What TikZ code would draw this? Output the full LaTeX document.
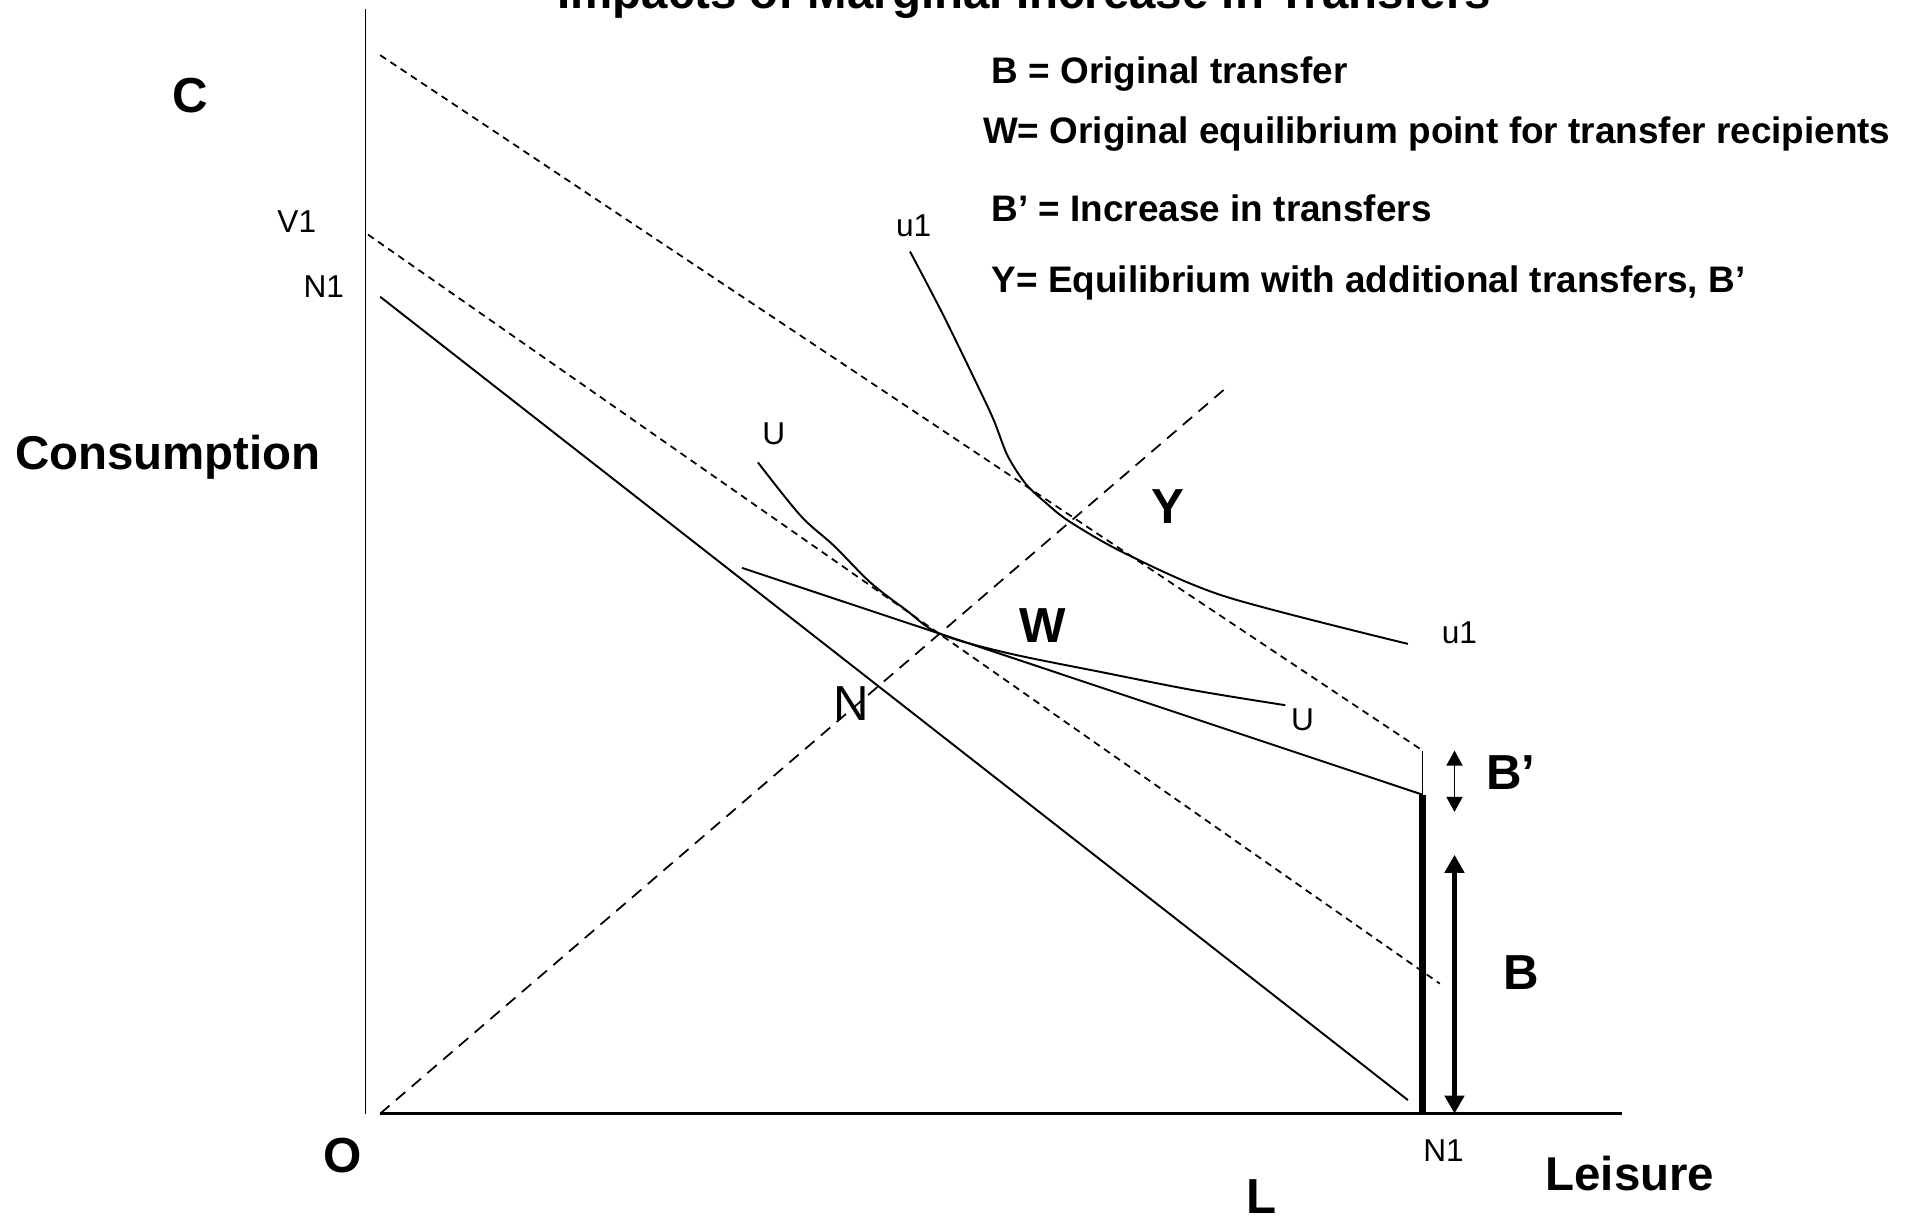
\documentclass[tikz,border=0pt]{standalone}
\usepackage{fontspec}
\setmainfont{Liberation Sans}
\usepackage{tikz}
\usetikzlibrary{arrows.meta, positioning}

\tikzset{
	biglbl/.style={font=\fontsize{14}{16}\selectfont\bfseries, inner sep=0pt},
	axislbl/.style={font=\fontsize{13.5}{16}\selectfont\bfseries, inner sep=0pt},
	smalllbl/.style={font=\fontsize{9}{11}\selectfont, inner sep=0pt},
	keytext/.style={font=\fontsize{10.5}{12}\selectfont\bfseries, anchor=west, inner sep=0pt},
	curve/.style={line width=0.55pt},
	shortdash/.style={line width=0.5pt, dash pattern=on 2pt off 1.5pt},
	longdash/.style={line width=0.5pt, dash pattern=on 3.5pt off 2.4pt},
}

\begin{document}
\begin{tikzpicture}
			\useasboundingbox (-3.655, -1.079) rectangle (15.575, 11.136);
			% Points:
			\coordinate (O) at (0, 0);
			\coordinate (Ctop) at (0, 11.05);
			\coordinate (Lstart) at (0.147, 0);
			\coordinate (Lend) at (12.56, 0);
			\coordinate (W) at (5.74, 4.80);
			\coordinate (Y) at (7.044, 5.918);
			\coordinate (Kink) at (10.571, 3.189);
			\coordinate (Bftop) at (10.571, 3.630);
			\coordinate (Nbase) at (10.571, 0);
			% Axes:
			\draw[line width=0.45pt] (Ctop) -- (O);
			\draw[line width=0.75pt] (Lstart) -- (Lend);
			% Budget lines:
			\draw[curve] (0.147, 8.168) -- (10.424, 0.135);
			\draw[shortdash] (0.025, 8.79) -- (10.743, 1.30);
			\draw[shortdash] (0.147, 10.584) -- (Bftop);
			\draw[curve] (3.765, 5.457) -- (W) -- (Kink);
			\draw[line width=0.45pt] (Bftop) -- (Kink);
			\draw[line width=2pt] (Kink) -- (Nbase);
			\draw[longdash] (Lstart) -- (8.609, 7.26);
			% Indifference curves:
			\draw[curve] plot[smooth, tension=0.55] coordinates {(3.924, 6.512) (4.35, 5.98) (4.685, 5.678) (5.05, 5.31) (5.40, 5.04) (W) (6.4, 4.61) (7.383, 4.41) (8.3, 4.23) (9.198, 4.084)};
			\draw[curve] plot[smooth, tension=0.5] coordinates {(5.445, 8.621) (5.77, 8.0) (6.095, 7.334) (6.28, 6.94) (6.42, 6.58) (6.60, 6.30) (6.80, 6.11) (Y) (7.6, 5.60) (8.6, 5.17) (10.424, 4.697)};
			% Transfer arrows:
			\draw[line width=0.5pt, {Triangle[length=0.15cm, width=0.16cm]}-{Triangle[length=0.15cm, width=0.16cm]}] (10.89, 3.630) -- (10.89, 3.017);
			\draw[line width=1.3pt, {Triangle[length=0.18cm, width=0.19cm]}-{Triangle[length=0.18cm, width=0.19cm]}] (10.89, 2.588) -- (10.89, 0);
			% Labels:
			\node[axislbl, anchor=base](T1) at (6.586, 11.05){Impacts of Marginal Increase in Transfers};
			\node[biglbl](C1) at (-1.754, 10.179){C};
			\node[axislbl](C2) at (-1.975, 6.561){Consumption};
			\node[smalllbl](V1) at (-0.687, 8.916){V1};
			\node[smalllbl](N1a) at (-0.417, 8.266){N1};
			\node[smalllbl](U1) at (4.084, 6.794){U};
			\node[smalllbl](U2) at (9.370, 3.937){U};
			\node[smalllbl](u1a) at (5.482, 8.879){u1};
			\node[smalllbl](u1b) at (10.939, 4.807){u1};
			\node[biglbl](Ylbl) at (8.021, 6.071){Y};
			\node[biglbl](Wlbl) at (6.770, 4.881){W};
			\node[font=\fontsize{14}{16}\selectfont, inner sep=0pt](Nlbl) at (4.857, 4.096){N};
			\node[biglbl](Bp) at (11.455, 3.409){B’};
			\node[biglbl](Bl) at (11.553, 1.410){B};
			\node[biglbl](Olbl) at (-0.233, -0.417){O};
			\node[smalllbl](N1b) at (10.780, -0.368){N1};
			\node[axislbl](L1) at (12.644, -0.601){Leisure};
			\node[biglbl](L2) at (8.965, -0.83){L};
			% Key:
			\node[keytext](K1) at (6.255, 10.400){B = Original transfer};
			\node[keytext](K2) at (6.169, 9.799){W= Original equilibrium point for transfer recipients};
			\node[keytext](K3) at (6.255, 9.051){B’ = Increase in transfers};
			\node[keytext](K4) at (6.255, 8.303){Y= Equilibrium with additional transfers, B’};
		\end{tikzpicture}
\end{document}
